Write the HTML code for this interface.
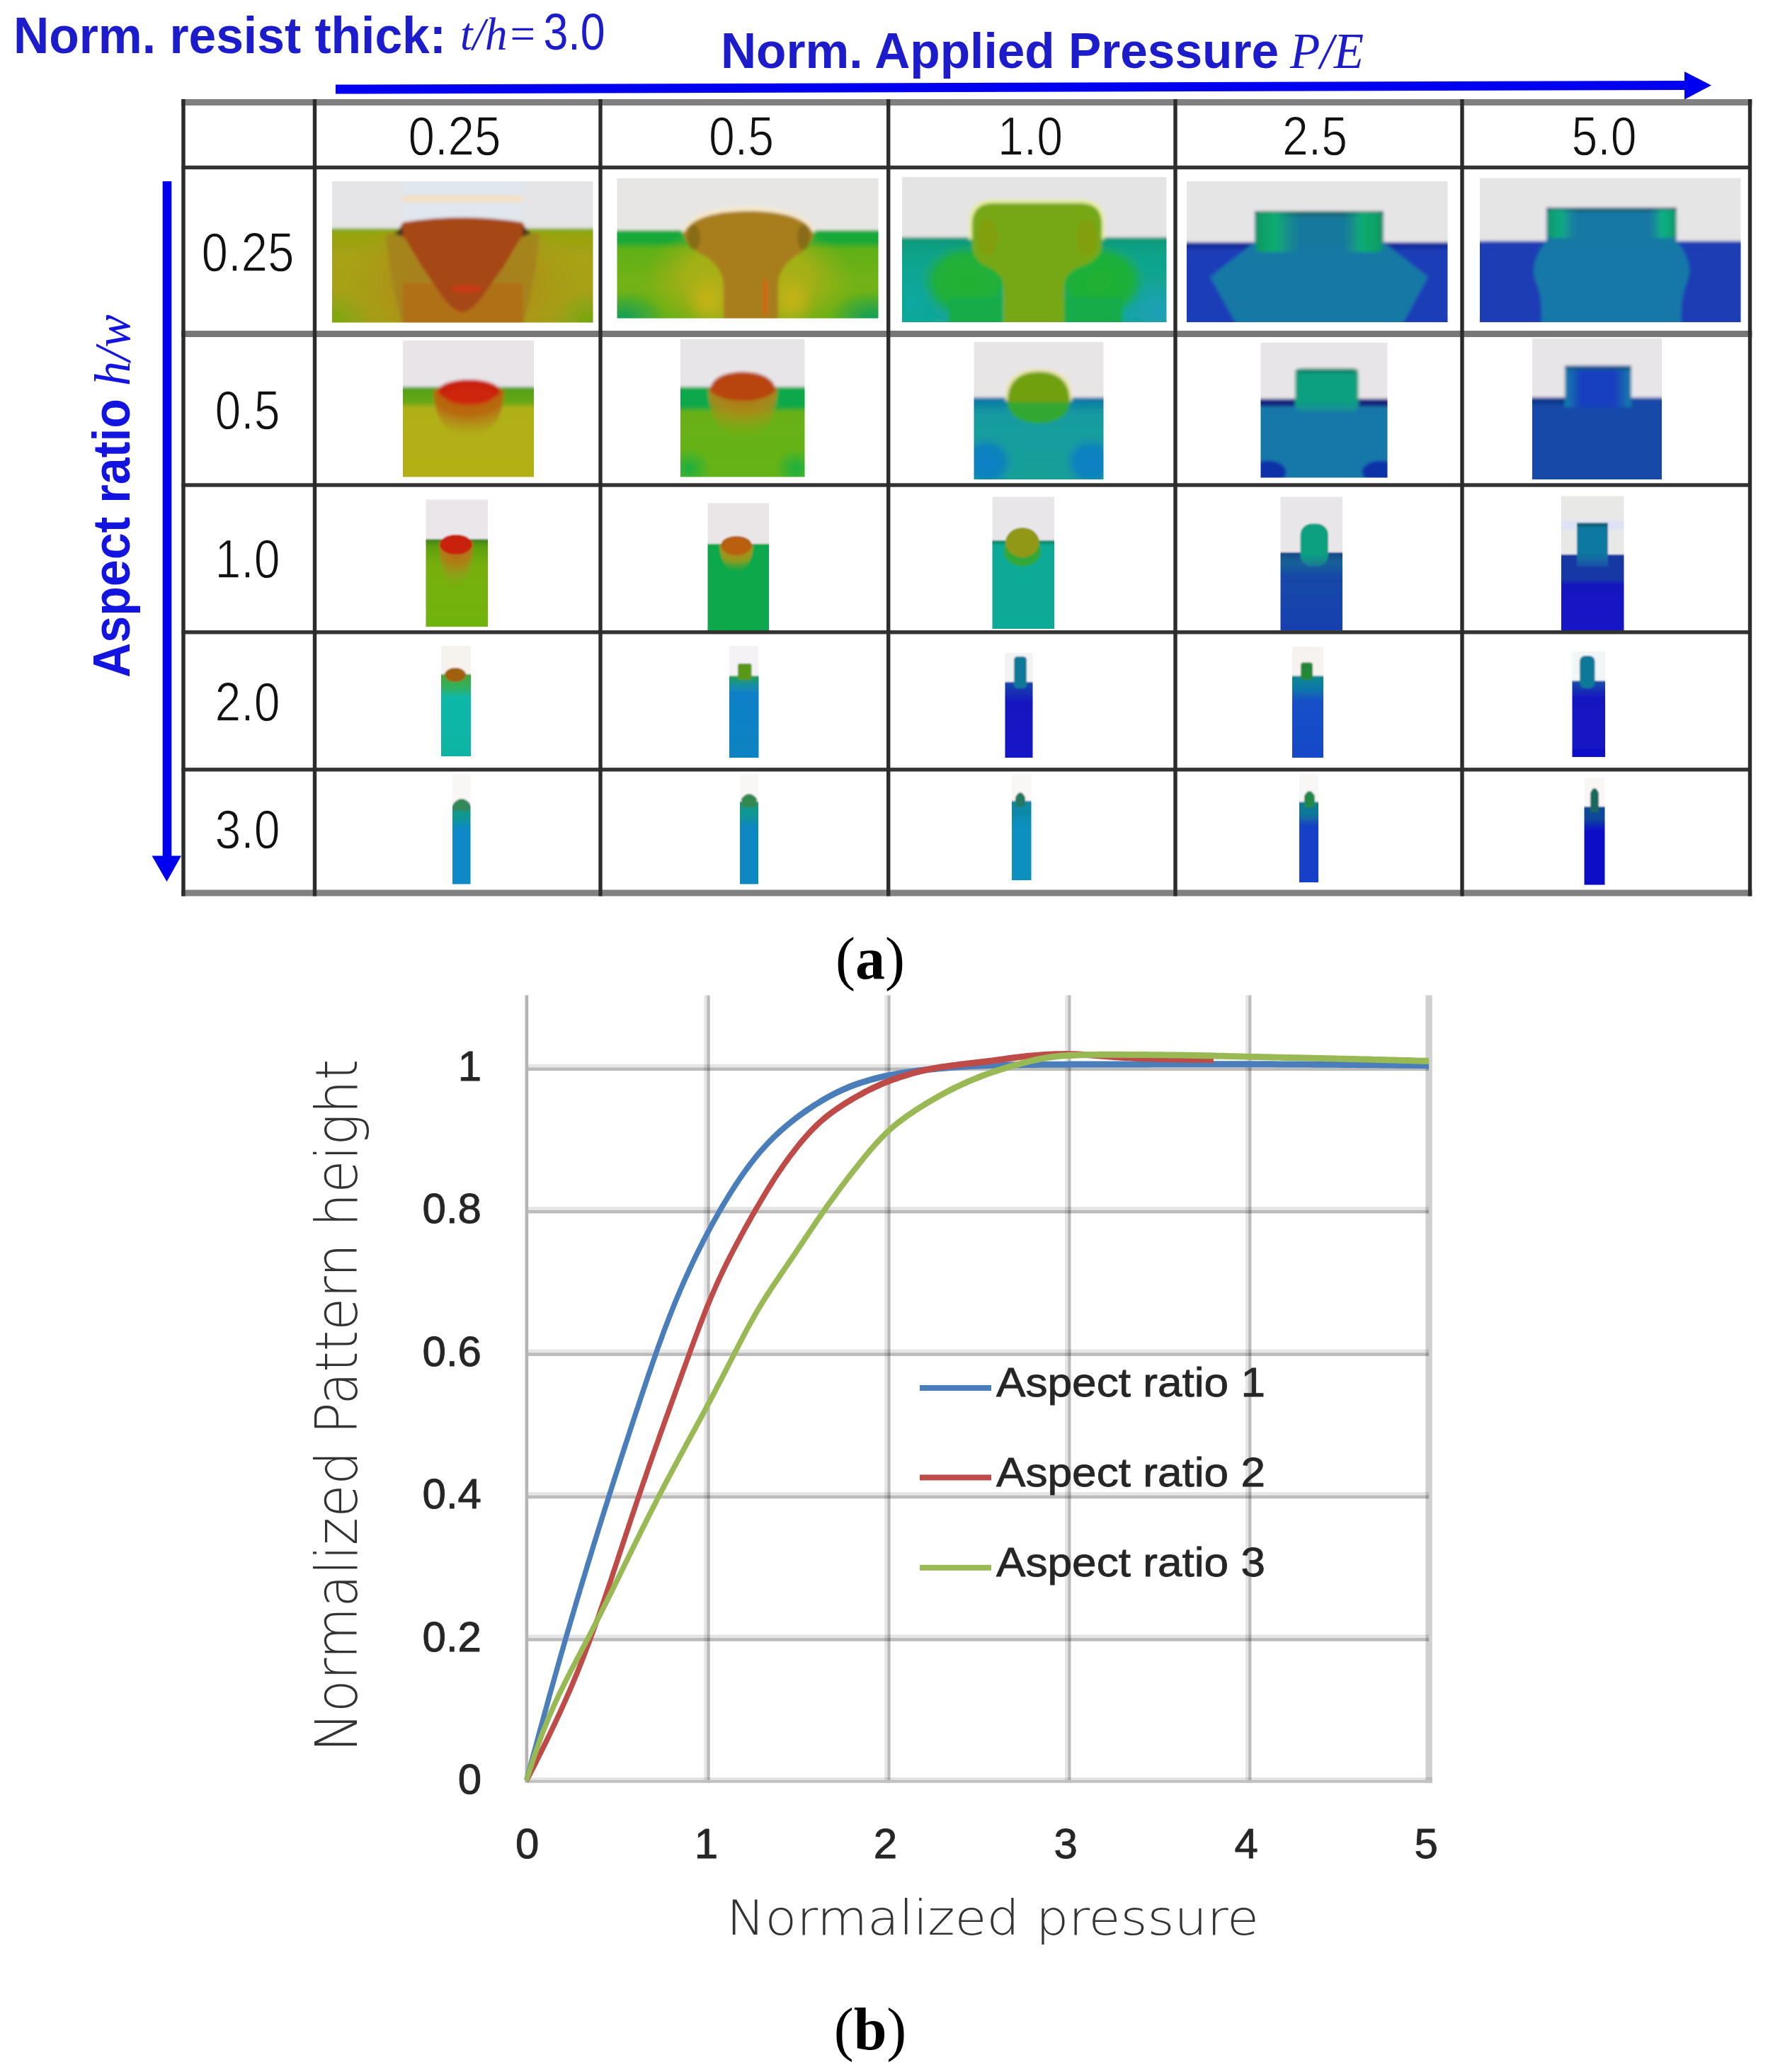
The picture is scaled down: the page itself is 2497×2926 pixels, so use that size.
<!DOCTYPE html>
<html lang="en"><head><meta charset="utf-8"><title>Figure</title>
<style>html,body{margin:0;padding:0;background:#fff}svg{display:block}</style></head>
<body><svg width="2497" height="2926" viewBox="0 0 2497 2926">
<rect width="2497" height="2926" fill="#fff"/>
<defs><filter id="b2" x="-10%" y="-10%" width="120%" height="120%"><feGaussianBlur stdDeviation="2"/></filter><filter id="b1" x="-10%" y="-10%" width="120%" height="120%"><feGaussianBlur stdDeviation="1.2"/></filter><filter id="b4" x="-20%" y="-20%" width="140%" height="140%"><feGaussianBlur stdDeviation="5"/></filter><linearGradient id="g1" x1="0" y1="0" x2="0" y2="1"><stop offset="0" stop-color="#7eac08"/><stop offset="0.07" stop-color="#98a40e"/><stop offset="0.3" stop-color="#a8a216"/><stop offset="1" stop-color="#a4a014"/></linearGradient><radialGradient id="r2" cx="0.5" cy="0.5" r="0.5"><stop offset="0" stop-color="#78a810" stop-opacity="1"/><stop offset="1" stop-color="#78a810" stop-opacity="0"/></radialGradient><radialGradient id="r3" cx="0.5" cy="0.5" r="0.5"><stop offset="0" stop-color="#70a810" stop-opacity="1"/><stop offset="1" stop-color="#70a810" stop-opacity="0"/></radialGradient><radialGradient id="r4" cx="0.5" cy="0.5" r="0.5"><stop offset="0" stop-color="#b48818" stop-opacity="0.9"/><stop offset="0.6" stop-color="#b08c18" stop-opacity="0.6"/><stop offset="1" stop-color="#a89818" stop-opacity="0"/></radialGradient><clipPath id="k5"><rect x="460.0" y="324.5" width="386.5" height="140.0"/></clipPath><clipPath id="c6"><rect x="469.0" y="256.0" width="368.5" height="199.5"/></clipPath><linearGradient id="g7" x1="0" y1="0" x2="0" y2="1"><stop offset="0" stop-color="#10a83c"/><stop offset="0.12" stop-color="#18a838"/><stop offset="0.2" stop-color="#60b018"/><stop offset="0.6" stop-color="#74b212"/><stop offset="1" stop-color="#64b018"/></linearGradient><radialGradient id="r8" cx="0.5" cy="0.5" r="0.5"><stop offset="0" stop-color="#10a058" stop-opacity="1"/><stop offset="1" stop-color="#10a058" stop-opacity="0"/></radialGradient><radialGradient id="r9" cx="0.5" cy="0.5" r="0.5"><stop offset="0" stop-color="#10a058" stop-opacity="1"/><stop offset="1" stop-color="#10a058" stop-opacity="0"/></radialGradient><radialGradient id="r10" cx="0.5" cy="0.5" r="0.5"><stop offset="0" stop-color="#b0b014" stop-opacity="1"/><stop offset="0.6" stop-color="#a8b014" stop-opacity="0.9"/><stop offset="1" stop-color="#98b014" stop-opacity="0"/></radialGradient><radialGradient id="r11" cx="0.5" cy="0.5" r="0.5"><stop offset="0" stop-color="#c8b418" stop-opacity="1"/><stop offset="1" stop-color="#c0b018" stop-opacity="0"/></radialGradient><radialGradient id="r12" cx="0.5" cy="0.5" r="0.5"><stop offset="0" stop-color="#c8b418" stop-opacity="1"/><stop offset="1" stop-color="#c0b018" stop-opacity="0"/></radialGradient><clipPath id="c13"><rect x="871.5" y="251.5" width="369.0" height="198.0"/></clipPath><linearGradient id="g14" x1="0" y1="0" x2="0" y2="1"><stop offset="0" stop-color="#0c9878"/><stop offset="0.2" stop-color="#10a48c"/><stop offset="1" stop-color="#12a898"/></linearGradient><radialGradient id="r15" cx="0.5" cy="0.5" r="0.5"><stop offset="0" stop-color="#20a0b8" stop-opacity="1"/><stop offset="1" stop-color="#20a0b8" stop-opacity="0"/></radialGradient><radialGradient id="r16" cx="0.5" cy="0.5" r="0.5"><stop offset="0" stop-color="#10a8a0" stop-opacity="1"/><stop offset="1" stop-color="#10a8a0" stop-opacity="0"/></radialGradient><radialGradient id="r17" cx="0.5" cy="0.5" r="0.5"><stop offset="0" stop-color="#24b030" stop-opacity="1"/><stop offset="0.7" stop-color="#20b038" stop-opacity="0.95"/><stop offset="1" stop-color="#18a860" stop-opacity="0"/></radialGradient><radialGradient id="r18" cx="0.5" cy="0.5" r="0.5"><stop offset="0" stop-color="#20b030" stop-opacity="1"/><stop offset="0.7" stop-color="#20b038" stop-opacity="0.95"/><stop offset="1" stop-color="#18a860" stop-opacity="0"/></radialGradient><clipPath id="c19"><rect x="1274.0" y="250.0" width="373.5" height="205.0"/></clipPath><linearGradient id="g20" x1="0" y1="0" x2="1" y2="0"><stop offset="0" stop-color="#0c9860" stop-opacity="1"/><stop offset="0.45" stop-color="#10b070" stop-opacity="0.95"/><stop offset="1" stop-color="#10a080" stop-opacity="0"/></linearGradient><linearGradient id="g21" x1="0" y1="0" x2="1" y2="0"><stop offset="0" stop-color="#10a080" stop-opacity="0"/><stop offset="0.5" stop-color="#10b070" stop-opacity="0.95"/><stop offset="1" stop-color="#0c9860" stop-opacity="1"/></linearGradient><clipPath id="c22"><rect x="1676.0" y="256.0" width="368.5" height="199.0"/></clipPath><linearGradient id="g23" x1="0" y1="0" x2="1" y2="0"><stop offset="0" stop-color="#0c9868" stop-opacity="1"/><stop offset="0.45" stop-color="#10b080" stop-opacity="0.9"/><stop offset="1" stop-color="#10a090" stop-opacity="0"/></linearGradient><linearGradient id="g24" x1="0" y1="0" x2="1" y2="0"><stop offset="0" stop-color="#10a090" stop-opacity="0"/><stop offset="0.5" stop-color="#10b880" stop-opacity="0.9"/><stop offset="1" stop-color="#0c9868" stop-opacity="1"/></linearGradient><clipPath id="c25"><rect x="2090.0" y="251.5" width="368.5" height="203.5"/></clipPath><linearGradient id="g26" x1="0" y1="0" x2="0" y2="1"><stop offset="0" stop-color="#50a018"/><stop offset="0.16" stop-color="#68a818"/><stop offset="0.22" stop-color="#b0b018"/><stop offset="1" stop-color="#b4b018"/></linearGradient><radialGradient id="r27" cx="0.5" cy="0.0" r="1.0"><stop offset="0" stop-color="#c05010" stop-opacity="1"/><stop offset="0.55" stop-color="#b86810" stop-opacity="0.95"/><stop offset="1" stop-color="#b08818" stop-opacity="0"/></radialGradient><clipPath id="c28"><rect x="569.0" y="481.0" width="185.0" height="192.5"/></clipPath><linearGradient id="g29" x1="0" y1="0" x2="0" y2="1"><stop offset="0" stop-color="#10a848"/><stop offset="0.2" stop-color="#10a848"/><stop offset="0.26" stop-color="#68b018"/><stop offset="1" stop-color="#64b418"/></linearGradient><radialGradient id="r30" cx="0.5" cy="0.5" r="0.5"><stop offset="0" stop-color="#18b040" stop-opacity="1"/><stop offset="1" stop-color="#18b040" stop-opacity="0"/></radialGradient><radialGradient id="r31" cx="0.5" cy="0.5" r="0.5"><stop offset="0" stop-color="#18b040" stop-opacity="1"/><stop offset="1" stop-color="#18b040" stop-opacity="0"/></radialGradient><radialGradient id="r32" cx="0.5" cy="0.0" r="1.0"><stop offset="0" stop-color="#c06810" stop-opacity="1"/><stop offset="0.5" stop-color="#b08818" stop-opacity="0.9"/><stop offset="1" stop-color="#90a818" stop-opacity="0"/></radialGradient><clipPath id="c33"><rect x="961.0" y="479.0" width="175.5" height="194.5"/></clipPath><linearGradient id="g34" x1="0" y1="0" x2="0" y2="1"><stop offset="0" stop-color="#0c6ca8"/><stop offset="0.07" stop-color="#1084a4"/><stop offset="0.2" stop-color="#149ca0"/><stop offset="1" stop-color="#14a098"/></linearGradient><radialGradient id="r35" cx="0.5" cy="0.5" r="0.5"><stop offset="0" stop-color="#1080c8" stop-opacity="1"/><stop offset="0.6" stop-color="#1080c0" stop-opacity="0.9"/><stop offset="1" stop-color="#1088b8" stop-opacity="0"/></radialGradient><radialGradient id="r36" cx="0.5" cy="0.5" r="0.5"><stop offset="0" stop-color="#1080c8" stop-opacity="1"/><stop offset="0.6" stop-color="#1080c0" stop-opacity="0.9"/><stop offset="1" stop-color="#1088b8" stop-opacity="0"/></radialGradient><clipPath id="c37"><rect x="1375.5" y="483.0" width="183.0" height="194.0"/></clipPath><linearGradient id="g38" x1="0" y1="0" x2="0" y2="1"><stop offset="0" stop-color="#10a080"/><stop offset="0.75" stop-color="#10a080"/><stop offset="1" stop-color="#1488a0"/></linearGradient><clipPath id="c39"><rect x="1780.5" y="484.0" width="179.0" height="190.5"/></clipPath><linearGradient id="g40" x1="0" y1="0" x2="1" y2="0"><stop offset="0" stop-color="#1080a8"/><stop offset="0.25" stop-color="#1840c0"/><stop offset="0.75" stop-color="#1840c0"/><stop offset="1" stop-color="#1080a8"/></linearGradient><clipPath id="c41"><rect x="2164.0" y="478.0" width="183.0" height="199.0"/></clipPath><linearGradient id="g42" x1="0" y1="0" x2="0" y2="1"><stop offset="0" stop-color="#388018"/><stop offset="0.08" stop-color="#60a010"/><stop offset="0.3" stop-color="#78b010"/><stop offset="1" stop-color="#70b410"/></linearGradient><radialGradient id="r43" cx="0.5" cy="0.0" r="1.0"><stop offset="0" stop-color="#c85010" stop-opacity="1"/><stop offset="0.5" stop-color="#b87818" stop-opacity="0.85"/><stop offset="1" stop-color="#98a018" stop-opacity="0"/></radialGradient><clipPath id="c44"><rect x="601.5" y="705.5" width="87.5" height="179.5"/></clipPath><radialGradient id="r45" cx="0.5" cy="0.0" r="1.0"><stop offset="0" stop-color="#c07810" stop-opacity="1"/><stop offset="0.6" stop-color="#a89818" stop-opacity="0.85"/><stop offset="1" stop-color="#50a830" stop-opacity="0"/></radialGradient><clipPath id="c46"><rect x="999.5" y="710.5" width="86.5" height="180.5"/></clipPath><clipPath id="c47"><rect x="1401.5" y="701.5" width="87.5" height="186.5"/></clipPath><linearGradient id="g48" x1="0" y1="0" x2="0" y2="1"><stop offset="0" stop-color="#184888"/><stop offset="0.12" stop-color="#186098"/><stop offset="0.3" stop-color="#1848a8"/><stop offset="1" stop-color="#1840b0"/></linearGradient><linearGradient id="g49" x1="0" y1="0" x2="0" y2="1"><stop offset="0" stop-color="#10a080"/><stop offset="0.7" stop-color="#10a080"/><stop offset="1" stop-color="#147898"/></linearGradient><clipPath id="c50"><rect x="1808.5" y="701.5" width="87.5" height="189.0"/></clipPath><linearGradient id="g51" x1="0" y1="0" x2="0" y2="1"><stop offset="0" stop-color="#1838a0"/><stop offset="0.3" stop-color="#1838a8"/><stop offset="0.36" stop-color="#1818c0"/><stop offset="1" stop-color="#1414c8"/></linearGradient><linearGradient id="g52" x1="0" y1="0" x2="0" y2="1"><stop offset="0" stop-color="#1078a0"/><stop offset="0.7" stop-color="#1078a0"/><stop offset="1" stop-color="#1850a8"/></linearGradient><clipPath id="c53"><rect x="2205.0" y="700.5" width="88.5" height="192.0"/></clipPath><linearGradient id="g54" x1="0" y1="0" x2="0" y2="1"><stop offset="0" stop-color="#40a838"/><stop offset="0.16" stop-color="#30b060"/><stop offset="0.26" stop-color="#10b8a8"/><stop offset="1" stop-color="#10b4a4"/></linearGradient><clipPath id="c55"><rect x="623.0" y="912.0" width="42.0" height="156.0"/></clipPath><linearGradient id="g56" x1="0" y1="0" x2="0" y2="1"><stop offset="0" stop-color="#20a050"/><stop offset="0.1" stop-color="#1890a0"/><stop offset="0.2" stop-color="#1080c8"/><stop offset="1" stop-color="#1084c0"/></linearGradient><clipPath id="c57"><rect x="1030.0" y="912.0" width="41.5" height="158.0"/></clipPath><linearGradient id="g58" x1="0" y1="0" x2="0" y2="1"><stop offset="0" stop-color="#1848a8"/><stop offset="0.25" stop-color="#1818c0"/><stop offset="1" stop-color="#1414c8"/></linearGradient><clipPath id="c59"><rect x="1419.5" y="922.0" width="39.0" height="148.0"/></clipPath><linearGradient id="g60" x1="0" y1="0" x2="0" y2="1"><stop offset="0" stop-color="#108890"/><stop offset="0.15" stop-color="#1078a8"/><stop offset="0.28" stop-color="#1850c8"/><stop offset="1" stop-color="#1848c8"/></linearGradient><clipPath id="c61"><rect x="1825.0" y="913.5" width="44.0" height="156.5"/></clipPath><linearGradient id="g62" x1="0" y1="0" x2="0" y2="1"><stop offset="0" stop-color="#1850a8"/><stop offset="0.2" stop-color="#1818c0"/><stop offset="1" stop-color="#1010c8"/></linearGradient><clipPath id="c63"><rect x="2220.5" y="920.0" width="46.5" height="149.0"/></clipPath><linearGradient id="g64" x1="0" y1="0" x2="0" y2="1"><stop offset="0" stop-color="#109890"/><stop offset="0.14" stop-color="#109890"/><stop offset="0.28" stop-color="#1088c8"/><stop offset="1" stop-color="#1088c8"/></linearGradient><clipPath id="c65"><rect x="639.0" y="1093.0" width="25.5" height="155.5"/></clipPath><linearGradient id="g66" x1="0" y1="0" x2="0" y2="1"><stop offset="0" stop-color="#109890"/><stop offset="0.14" stop-color="#109890"/><stop offset="0.28" stop-color="#1088c0"/><stop offset="1" stop-color="#1088c0"/></linearGradient><clipPath id="c67"><rect x="1045.0" y="1093.0" width="26.0" height="155.5"/></clipPath><linearGradient id="g68" x1="0" y1="0" x2="0" y2="1"><stop offset="0" stop-color="#1088a8"/><stop offset="0.14" stop-color="#1088a8"/><stop offset="0.28" stop-color="#1090c0"/><stop offset="1" stop-color="#1090c0"/></linearGradient><clipPath id="c69"><rect x="1429.0" y="1093.0" width="27.5" height="150.0"/></clipPath><linearGradient id="g70" x1="0" y1="0" x2="0" y2="1"><stop offset="0" stop-color="#107898"/><stop offset="0.14" stop-color="#107898"/><stop offset="0.28" stop-color="#1840c8"/><stop offset="1" stop-color="#1840c8"/></linearGradient><clipPath id="c71"><rect x="1835.0" y="1093.0" width="27.0" height="153.0"/></clipPath><linearGradient id="g72" x1="0" y1="0" x2="0" y2="1"><stop offset="0" stop-color="#104898"/><stop offset="0.14" stop-color="#104898"/><stop offset="0.28" stop-color="#1010c8"/><stop offset="1" stop-color="#1010c8"/></linearGradient><clipPath id="c73"><rect x="2237.5" y="1098.0" width="29.0" height="151.5"/></clipPath></defs><g clip-path="url(#c6)"><g filter="url(#b2)"><rect x="460.0" y="247.0" width="386.5" height="217.5" fill="#e5e4e6"/><rect x="569.0" y="247.0" width="169.0" height="63.0" fill="#e0e7ee"/><rect x="569.0" y="276.0" width="169.0" height="10.0" fill="#f4e0c4"/><rect x="460.0" y="322.5" width="386.5" height="142.0" fill="url(#g1)"/><ellipse cx="469.0" cy="455.5" rx="60.0" ry="45.0" fill="url(#r2)"/><ellipse cx="837.5" cy="455.5" rx="60.0" ry="45.0" fill="url(#r3)"/><g clip-path="url(#k5)"><ellipse cx="653.0" cy="400.0" rx="170.0" ry="120.0" fill="url(#r4)"/></g><path d="M545,330 L762,330 Q756,400 738,460 L569,460 Q551,400 545,330Z" fill="#a47c20" opacity="0.7"/><rect x="569.0" y="400.0" width="169.0" height="64.5" fill="#b07018" rx="0.8"/><path d="M569,314 Q653,300 738,314 L746,328 L734,338 L711,377 L683,416 Q668,438 653,441 Q638,438 623,416 L596,377 L573,338 L561,328 Z" fill="#a64616"/><ellipse cx="658.0" cy="408.0" rx="22.0" ry="6.0" fill="#d03818" opacity="0.8"/><path d="M556,330 l13,-10 v14 z" fill="#2a2a20" opacity="0.7"/><path d="M751,330 l-13,-10 v14 z" fill="#2a2a20" opacity="0.7"/></g></g><g clip-path="url(#c13)"><g filter="url(#b2)"><rect x="862.5" y="242.5" width="387.0" height="216.0" fill="#e7e6e4"/><rect x="862.5" y="325.0" width="387.0" height="133.5" fill="url(#g7)"/><ellipse cx="881.5" cy="449.5" rx="60.0" ry="40.0" fill="url(#r8)"/><ellipse cx="1230.5" cy="449.5" rx="60.0" ry="40.0" fill="url(#r9)"/><ellipse cx="1057.0" cy="395.0" rx="150.0" ry="85.0" fill="url(#r10)"/><ellipse cx="1000.0" cy="423.0" rx="32.0" ry="40.0" fill="url(#r11)"/><ellipse cx="1119.0" cy="423.0" rx="32.0" ry="40.0" fill="url(#r12)"/><path d="M962,328 Q975,292 1057,292 Q1140,292 1152,328 Z" fill="#f6e8c8"/><path d="M965,332 Q975,299 1057,298 Q1139,299 1149,332 Q1142,352 1120,364 Q1100,380 1099,400 L1099,460 L1022,460 L1022,400 Q1020,380 1000,364 Q973,352 965,332 Z" fill="#a87e1a"/><rect x="1078.0" y="395.0" width="6.0" height="50.0" fill="#d06818" rx="0.8"/><ellipse cx="980.0" cy="335.0" rx="9.0" ry="18.0" fill="#6a5a18" opacity="0.5"/><ellipse cx="1135.0" cy="335.0" rx="9.0" ry="18.0" fill="#6a5a18" opacity="0.5"/></g></g><g clip-path="url(#c19)"><g filter="url(#b2)"><rect x="1265.0" y="241.0" width="391.5" height="223.0" fill="#e5e4e5"/><rect x="1265.0" y="335.0" width="391.5" height="129.0" fill="url(#g14)"/><ellipse cx="1637.5" cy="440.0" rx="70.0" ry="50.0" fill="url(#r15)"/><ellipse cx="1284.0" cy="425.0" rx="50.0" ry="60.0" fill="url(#r16)"/><ellipse cx="1366.0" cy="397.0" rx="66.0" ry="54.0" fill="url(#r17)"/><ellipse cx="1553.0" cy="397.0" rx="66.0" ry="54.0" fill="url(#r18)"/><rect x="1340.0" y="420.0" width="76.0" height="44.0" fill="#18ac48" rx="0.7"/><rect x="1503.0" y="420.0" width="82.0" height="44.0" fill="#18ac48" rx="0.7"/><path d="M1368,338 L1368,315 Q1368,282 1402,282 L1527,282 Q1560,282 1560,315 L1560,338 Z" fill="#e4ec9c"/><path d="M1373,350 L1373,316 Q1373,287 1404,287 L1525,287 Q1556,287 1556,316 L1556,350 Q1552,368 1527,376 Q1503,386 1503,404 L1503,465 L1417,465 L1417,404 Q1417,386 1393,376 Q1376,368 1373,350 Z" fill="#76a812"/><ellipse cx="1395.0" cy="335.0" rx="14.0" ry="26.0" fill="#8a9a10" opacity="0.6"/><ellipse cx="1535.0" cy="335.0" rx="14.0" ry="26.0" fill="#8a9a10" opacity="0.6"/></g></g><g clip-path="url(#c22)"><g filter="url(#b2)"><rect x="1667.0" y="247.0" width="386.5" height="217.0" fill="#e6e5e6"/><rect x="1667.0" y="342.0" width="386.5" height="122.0" fill="#1a3cb8"/><rect x="1667.0" y="342.0" width="386.5" height="10.0" fill="#182c98" opacity="0.8"/><path d="M1772,342 L1954,342 L2017,391 L1977,465 L1750,465 L1709,391 Z" fill="#1878a4"/><rect x="1772.0" y="298.0" width="182.0" height="52.0" fill="#18789c"/><rect x="1772.0" y="298.0" width="182.0" height="8.0" fill="#106868" opacity="0.7"/><rect x="1774.0" y="300.0" width="62.0" height="56.0" fill="url(#g20)" rx="6"/><rect x="1896.0" y="300.0" width="56.0" height="56.0" fill="url(#g21)" rx="6"/></g></g><g clip-path="url(#c25)"><g filter="url(#b2)"><rect x="2081.0" y="242.5" width="386.5" height="221.5" fill="#e6e5e5"/><rect x="2081.0" y="340.5" width="386.5" height="123.5" fill="#1a3cb4"/><path d="M2184,340 L2368,340 Q2392,370 2384,395 Q2372,420 2375,465 L2176,465 Q2180,420 2168,395 Q2160,370 2184,340 Z" fill="#1878a8"/><rect x="2184.0" y="293.0" width="184.0" height="57.0" fill="#1878a4"/><rect x="2184.0" y="293.0" width="184.0" height="7.0" fill="#106070" opacity="0.7"/><rect x="2186.0" y="296.0" width="42.0" height="40.0" fill="url(#g23)" rx="6"/><rect x="2328.0" y="296.0" width="39.0" height="40.0" fill="url(#g24)" rx="6"/></g></g><g clip-path="url(#c28)"><g filter="url(#b2)"><rect x="560.0" y="472.0" width="203.0" height="210.5" fill="#e8e4e8"/><rect x="560.0" y="546.5" width="203.0" height="136.0" fill="url(#g26)"/><path d="M612,550 Q614,614 662,616 Q710,614 712,550 Z" fill="url(#r27)"/><ellipse cx="662.5" cy="552.0" rx="44.0" ry="16.0" fill="#c82010"/><ellipse cx="662.5" cy="560.0" rx="34.0" ry="12.0" fill="#d02810" opacity="0.8"/></g></g><g clip-path="url(#c33)"><g filter="url(#b2)"><rect x="952.0" y="470.0" width="193.5" height="212.5" fill="#e8e5e8"/><rect x="952.0" y="546.5" width="193.5" height="136.0" fill="url(#g29)"/><ellipse cx="973.0" cy="661.5" rx="30.0" ry="28.0" fill="url(#r30)"/><ellipse cx="1124.5" cy="661.5" rx="30.0" ry="28.0" fill="url(#r31)"/><path d="M1000,548 Q1002,616 1049,618 Q1096,616 1098,548 Z" fill="url(#r32)"/><path d="M1002,552 Q1006,526 1049,525 Q1092,526 1096,552 Q1080,566 1049,566 Q1018,566 1002,552Z" fill="#b84410"/></g></g><g clip-path="url(#c37)"><g filter="url(#b2)"><rect x="1366.5" y="474.0" width="201.0" height="212.0" fill="#e8e5e6"/><rect x="1366.5" y="561.5" width="201.0" height="124.5" fill="url(#g34)"/><ellipse cx="1393.5" cy="652.0" rx="38.0" ry="36.0" fill="url(#r35)"/><ellipse cx="1540.5" cy="652.0" rx="38.0" ry="36.0" fill="url(#r36)"/><path d="M1422,562 L1512,562 Q1512,596 1467,598 Q1422,596 1422,562 Z" fill="#30a830"/><path d="M1420,566 Q1418,522 1467,521 Q1516,522 1514,566 Z" fill="#e8e4a0"/><path d="M1423,568 Q1423,526 1467,525 Q1511,526 1511,568 Z" fill="#70a010"/></g></g><g clip-path="url(#c39)"><g filter="url(#b2)"><rect x="1771.5" y="475.0" width="197.0" height="208.5" fill="#e8e5e8"/><rect x="1771.5" y="563.0" width="197.0" height="120.5" fill="#1878a8"/><rect x="1771.5" y="563.0" width="57.5" height="11.0" fill="#182880"/><rect x="1919.0" y="563.0" width="49.5" height="11.0" fill="#182880"/><ellipse cx="1790.5" cy="666.5" rx="26.0" ry="16.0" fill="#1030a8"/><ellipse cx="1949.5" cy="666.5" rx="26.0" ry="16.0" fill="#1030a8"/><rect x="1829.0" y="520.5" width="89.5" height="61.5" fill="url(#g38)" rx="9"/><rect x="1829.0" y="520.5" width="89.5" height="7.5" fill="#0c7860" rx="5" opacity="0.6"/></g></g><g clip-path="url(#c41)"><g filter="url(#b2)"><rect x="2155.0" y="469.0" width="201.0" height="217.0" fill="#e7e5e8"/><rect x="2155.0" y="561.5" width="201.0" height="124.5" fill="#1848a8"/><rect x="2155.0" y="561.5" width="55.0" height="10.0" fill="#103888" opacity="0.8"/><rect x="2210.0" y="516.5" width="94.0" height="58.5" fill="url(#g40)"/><rect x="2210.0" y="516.5" width="94.0" height="6.5" fill="#105878" opacity="0.7"/></g></g><g clip-path="url(#c44)"><g filter="url(#b1)"><rect x="592.5" y="696.5" width="105.5" height="197.5" fill="#ebe6ea"/><rect x="592.5" y="761.5" width="105.5" height="132.5" fill="url(#g42)"/><path d="M620,765 Q622,826 644,828 Q666,826 668,765 Z" fill="url(#r43)"/><ellipse cx="644.0" cy="769.0" rx="23.0" ry="14.0" fill="#c82010"/></g></g><g clip-path="url(#c46)"><g filter="url(#b1)"><rect x="990.5" y="701.5" width="104.5" height="198.5" fill="#eae6e8"/><rect x="990.5" y="768.0" width="104.5" height="132.0" fill="#10a848"/><path d="M1016,770 Q1018,806 1040,808 Q1062,806 1064,770 Z" fill="url(#r45)"/><path d="M1018,772 Q1018,758 1040,757 Q1062,758 1062,772 Q1056,784 1040,784 Q1024,784 1018,772Z" fill="#b86010"/></g></g><g clip-path="url(#c47)"><g filter="url(#b1)"><rect x="1392.5" y="692.5" width="105.5" height="204.5" fill="#e9e6e9"/><rect x="1392.5" y="763.0" width="105.5" height="134.0" fill="#10aa98"/><rect x="1392.5" y="763.0" width="105.5" height="6.0" fill="#0c8868" opacity="0.7"/><ellipse cx="1444.0" cy="778.0" rx="26.0" ry="22.0" fill="#30a838"/><ellipse cx="1444.0" cy="766.0" rx="24.0" ry="21.0" fill="#909818"/></g></g><g clip-path="url(#c50)"><g filter="url(#b1)"><rect x="1799.5" y="692.5" width="105.5" height="207.0" fill="#e8e6e8"/><rect x="1799.5" y="780.0" width="105.5" height="119.5" fill="url(#g48)"/><rect x="1836.5" y="739.5" width="39.5" height="60.5" fill="url(#g49)" rx="16"/></g></g><g clip-path="url(#c53)"><g filter="url(#b1)"><rect x="2196.0" y="691.5" width="106.5" height="210.0" fill="#e8e8e6"/><rect x="2196.0" y="735.0" width="106.5" height="13.0" fill="#dfe2f4"/><rect x="2196.0" y="783.0" width="106.5" height="118.5" fill="url(#g51)"/><rect x="2227.0" y="738.5" width="44.0" height="61.5" fill="url(#g52)"/><rect x="2227.0" y="738.5" width="44.0" height="5.5" fill="#0c5868" opacity="0.7"/></g></g><g clip-path="url(#c55)"><g filter="url(#b1)"><rect x="614.0" y="903.0" width="60.0" height="174.0" fill="#f6f2ee"/><rect x="614.0" y="952.0" width="60.0" height="125.0" fill="url(#g54)"/><ellipse cx="643.0" cy="953.0" rx="15.0" ry="10.0" fill="#a06010"/></g></g><g clip-path="url(#c57)"><g filter="url(#b1)"><rect x="1021.0" y="903.0" width="59.5" height="176.0" fill="#f4f2f4"/><rect x="1021.0" y="954.5" width="59.5" height="124.5" fill="url(#g56)"/><rect x="1042.0" y="937.0" width="19.5" height="23.0" fill="#589818" rx="3"/></g></g><g clip-path="url(#c59)"><g filter="url(#b1)"><rect x="1410.5" y="913.0" width="57.0" height="166.0" fill="#f2f4f4"/><rect x="1410.5" y="963.0" width="57.0" height="116.0" fill="url(#g58)"/><rect x="1432.0" y="927.0" width="18.0" height="45.0" fill="#107898" rx="5"/></g></g><g clip-path="url(#c61)"><g filter="url(#b1)"><rect x="1816.0" y="904.5" width="62.0" height="174.5" fill="#f5f2f0"/><rect x="1816.0" y="954.5" width="62.0" height="124.5" fill="url(#g60)"/><rect x="1837.0" y="935.5" width="17.0" height="24.5" fill="#208838" rx="4"/></g></g><g clip-path="url(#c63)"><g filter="url(#b1)"><rect x="2211.5" y="911.0" width="64.5" height="167.0" fill="#f2f6f6"/><rect x="2211.5" y="961.5" width="64.5" height="116.5" fill="url(#g62)"/><rect x="2231.0" y="926.0" width="21.5" height="46.0" fill="#107898" rx="8"/></g></g><g clip-path="url(#c65)"><g filter="url(#b1)"><rect x="630.0" y="1093.0" width="43.5" height="164.5" fill="#f9f6f6"/><rect x="630.0" y="1137.0" width="43.5" height="120.5" fill="url(#g64)"/><path d="M640,1145 L640,1135 Q652.0,1121 664,1135 L664,1145 Z" fill="#308858"/></g></g><g clip-path="url(#c67)"><g filter="url(#b1)"><rect x="1036.0" y="1093.0" width="44.0" height="164.5" fill="#f9f6f6"/><rect x="1036.0" y="1132.0" width="44.0" height="125.5" fill="url(#g66)"/><path d="M1047,1140 L1047,1128 Q1058.0,1114 1069,1128 L1069,1140 Z" fill="#308850"/></g></g><g clip-path="url(#c69)"><g filter="url(#b1)"><rect x="1420.0" y="1093.0" width="45.5" height="159.0" fill="#f9f6f6"/><rect x="1420.0" y="1131.0" width="45.5" height="121.0" fill="url(#g68)"/><path d="M1434,1139 L1434,1126 Q1441.0,1112 1448,1126 L1448,1139 Z" fill="#207860"/></g></g><g clip-path="url(#c71)"><g filter="url(#b1)"><rect x="1826.0" y="1093.0" width="45.0" height="162.0" fill="#f9f6f6"/><rect x="1826.0" y="1132.5" width="45.0" height="122.5" fill="url(#g70)"/><path d="M1842,1140.5 L1842,1124 Q1849.5,1110 1857,1124 L1857,1140.5 Z" fill="#208848"/></g></g><g clip-path="url(#c73)"><g filter="url(#b1)"><rect x="2228.5" y="1098.0" width="47.0" height="160.5" fill="#f9f6f6"/><rect x="2228.5" y="1139.0" width="47.0" height="119.5" fill="url(#g72)"/><path d="M2246,1147 L2246,1120 Q2252.0,1106 2258,1120 L2258,1147 Z" fill="#186860"/></g></g>
<g><rect x="256" y="140.0" width="2218.5" height="9" fill="#808080"/><rect x="256" y="1256.5" width="2218.5" height="9" fill="#808080"/><rect x="256" y="467.0" width="2218.5" height="9" fill="#777"/><rect x="256.5" y="233.8" width="2217.5" height="5.4" fill="#333"/><rect x="256.5" y="682.3" width="2217.5" height="5.4" fill="#333"/><rect x="256.5" y="890.0999999999999" width="2217.5" height="5.4" fill="#333"/><rect x="256.5" y="1084.1" width="2217.5" height="5.4" fill="#333"/><rect x="256.3" y="140.0" width="5.4" height="1125.5" fill="#2c2c2c"/><rect x="441.8" y="140.0" width="5.4" height="1125.5" fill="#2c2c2c"/><rect x="845.3" y="140.0" width="5.4" height="1125.5" fill="#2c2c2c"/><rect x="1252.0" y="140.0" width="5.4" height="1125.5" fill="#2c2c2c"/><rect x="1657.3" y="140.0" width="5.4" height="1125.5" fill="#2c2c2c"/><rect x="2062.3" y="140.0" width="5.4" height="1125.5" fill="#2c2c2c"/><rect x="2468.8" y="140.0" width="5.4" height="1125.5" fill="#2c2c2c"/></g>
<polygon points="474,119.5 2381,114 2381,127 474,132.5" fill="#0000f0"/>
<polygon points="2379,101 2417,120.5 2379,140.5" fill="#0000f0"/>
<rect x="229.7" y="256" width="12.6" height="960" fill="#0000f0"/>
<polygon points="214.5,1208.5 256,1208.5 235.6,1245" fill="#0000f0"/>
<text transform="translate(642,219) scale(0.875,1)" font-family="'Liberation Sans', sans-serif" font-size="77" font-weight="normal" text-anchor="middle" fill="#111" stroke="#fff" stroke-width="1.3" >0.25</text>
<text transform="translate(1047,219) scale(0.86,1)" font-family="'Liberation Sans', sans-serif" font-size="77" font-weight="normal" text-anchor="middle" fill="#111" stroke="#fff" stroke-width="1.3" >0.5</text>
<text transform="translate(1455,219) scale(0.86,1)" font-family="'Liberation Sans', sans-serif" font-size="77" font-weight="normal" text-anchor="middle" fill="#111" stroke="#fff" stroke-width="1.3" >1.0</text>
<text transform="translate(1857,219) scale(0.86,1)" font-family="'Liberation Sans', sans-serif" font-size="77" font-weight="normal" text-anchor="middle" fill="#111" stroke="#fff" stroke-width="1.3" >2.5</text>
<text transform="translate(2265.5,219) scale(0.86,1)" font-family="'Liberation Sans', sans-serif" font-size="77" font-weight="normal" text-anchor="middle" fill="#111" stroke="#fff" stroke-width="1.3" >5.0</text>
<text transform="translate(350,383) scale(0.875,1)" font-family="'Liberation Sans', sans-serif" font-size="77" font-weight="normal" text-anchor="middle" fill="#111" stroke="#fff" stroke-width="1.3" >0.25</text>
<text transform="translate(349.5,605.5) scale(0.86,1)" font-family="'Liberation Sans', sans-serif" font-size="77" font-weight="normal" text-anchor="middle" fill="#111" stroke="#fff" stroke-width="1.3" >0.5</text>
<text transform="translate(349.5,816) scale(0.86,1)" font-family="'Liberation Sans', sans-serif" font-size="77" font-weight="normal" text-anchor="middle" fill="#111" stroke="#fff" stroke-width="1.3" >1.0</text>
<text transform="translate(349.5,1017.5) scale(0.86,1)" font-family="'Liberation Sans', sans-serif" font-size="77" font-weight="normal" text-anchor="middle" fill="#111" stroke="#fff" stroke-width="1.3" >2.0</text>
<text transform="translate(349.5,1198) scale(0.86,1)" font-family="'Liberation Sans', sans-serif" font-size="77" font-weight="normal" text-anchor="middle" fill="#111" stroke="#fff" stroke-width="1.3" >3.0</text>
<text x="19" y="74.5" font-family="'Liberation Sans', sans-serif" font-size="72" font-weight="bold" fill="#1c1ccc" textLength="611" lengthAdjust="spacingAndGlyphs">Norm. resist thick:</text>
<text x="650" y="70" font-family="'Liberation Serif', serif" font-size="66" font-style="italic" fill="#1c1ccc" textLength="109" lengthAdjust="spacingAndGlyphs">t/h=</text>
<text transform="translate(767.5,70) scale(0.87,1)" font-family="'Liberation Sans', sans-serif" font-size="72" fill="#1c1ccc">3.0</text>
<text x="1018" y="95.5" font-family="'Liberation Sans', sans-serif" font-size="70" font-weight="bold" fill="#1c1ccc" textLength="788" lengthAdjust="spacingAndGlyphs">Norm. Applied Pressure</text>
<text x="1822" y="96" font-family="'Liberation Serif', serif" font-size="72" font-style="italic" fill="#1c1ccc" textLength="104" lengthAdjust="spacingAndGlyphs">P/E</text>
<text transform="translate(182.7,957) rotate(-90)" font-family="'Liberation Sans', sans-serif" font-size="74" font-weight="bold" fill="#1414e0" textLength="394" lengthAdjust="spacingAndGlyphs">Aspect ratio</text>
<text transform="translate(182.7,545) rotate(-90)" font-family="'Liberation Serif', serif" font-size="72" font-style="italic" fill="#1414e0" textLength="101" lengthAdjust="spacingAndGlyphs">h/w</text>
<text x="1229" y="1381.5" font-family="'Liberation Serif', serif" font-size="84" fill="#000" text-anchor="middle">(<tspan font-weight="bold">a</tspan>)</text>
<text x="1229" y="2894" font-family="'Liberation Serif', serif" font-size="84" fill="#000" text-anchor="middle">(<tspan font-weight="bold">b</tspan>)</text>
<g><rect x="994.3" y="1405.5" width="4.2" height="1112.0" fill="#000" fill-opacity="0.10"/><rect x="998.5" y="1405.5" width="4.2" height="1112.0" fill="#000" fill-opacity="0.265"/><rect x="1249.2" y="1405.5" width="4.2" height="1112.0" fill="#000" fill-opacity="0.10"/><rect x="1253.4" y="1405.5" width="4.2" height="1112.0" fill="#000" fill-opacity="0.265"/><rect x="1504.1" y="1405.5" width="4.2" height="1112.0" fill="#000" fill-opacity="0.10"/><rect x="1508.3" y="1405.5" width="4.2" height="1112.0" fill="#000" fill-opacity="0.265"/><rect x="1759.0" y="1405.5" width="4.2" height="1112.0" fill="#000" fill-opacity="0.10"/><rect x="1763.2" y="1405.5" width="4.2" height="1112.0" fill="#000" fill-opacity="0.265"/><rect x="2013.4" y="1405.5" width="9.4" height="1112.0" fill="#d0d0d0"/><rect x="743.6" y="2308.4" width="1274.5" height="4.7" fill="#000" fill-opacity="0.10"/><rect x="743.6" y="2313.1" width="1274.5" height="4.6" fill="#000" fill-opacity="0.265"/><rect x="743.6" y="2107.0" width="1274.5" height="4.7" fill="#000" fill-opacity="0.10"/><rect x="743.6" y="2111.7" width="1274.5" height="4.6" fill="#000" fill-opacity="0.265"/><rect x="743.6" y="1905.6" width="1274.5" height="4.7" fill="#000" fill-opacity="0.10"/><rect x="743.6" y="1910.3" width="1274.5" height="4.6" fill="#000" fill-opacity="0.265"/><rect x="743.6" y="1704.2" width="1274.5" height="4.7" fill="#000" fill-opacity="0.10"/><rect x="743.6" y="1708.9" width="1274.5" height="4.6" fill="#000" fill-opacity="0.265"/><rect x="743.6" y="1502.8" width="1274.5" height="4.7" fill="#000" fill-opacity="0.10"/><rect x="743.6" y="1507.5" width="1274.5" height="4.6" fill="#000" fill-opacity="0.265"/><rect x="743.6" y="2510" width="1279.2" height="3.5" fill="#000" fill-opacity="0.10"/><rect x="743.6" y="2513.5" width="1279.2" height="4.2" fill="#c0c0c0"/><rect x="741.5" y="1405.5" width="4.7" height="1112.0" fill="#b4b4b4"/></g>
<path transform="scale(1,1.25)" d="M743.6,2011.60 L745.7,2005.22 L747.9,1998.84 L750.0,1992.48 L752.1,1986.14 L754.2,1979.80 L756.4,1973.49 L758.5,1967.18 L760.6,1960.90 L762.7,1954.63 L764.9,1948.38 L767.0,1942.16 L769.1,1935.95 L771.3,1929.76 L773.4,1923.59 L775.5,1917.45 L777.6,1911.32 L779.8,1905.22 L781.9,1899.14 L784.0,1893.09 L786.2,1887.05 L788.3,1881.04 L790.4,1875.06 L792.5,1869.09 L794.7,1863.15 L796.8,1857.23 L798.9,1851.34 L801.0,1845.47 L803.2,1839.62 L805.3,1833.79 L807.4,1827.98 L809.6,1822.20 L811.7,1816.44 L813.8,1810.70 L815.9,1804.98 L818.1,1799.28 L820.2,1793.60 L822.3,1787.94 L824.5,1782.30 L826.6,1776.67 L828.7,1771.07 L830.8,1765.48 L833.0,1759.91 L835.1,1754.35 L837.2,1748.81 L839.3,1743.29 L841.5,1737.78 L843.6,1732.29 L845.7,1726.81 L847.9,1721.35 L850.0,1715.90 L852.1,1710.46 L854.2,1705.04 L856.4,1699.64 L858.5,1694.24 L860.6,1688.86 L862.8,1683.50 L864.9,1678.15 L867.0,1672.81 L869.1,1667.49 L871.3,1662.17 L873.4,1656.87 L875.5,1651.59 L877.6,1646.31 L879.8,1641.05 L881.9,1635.79 L884.0,1630.55 L886.2,1625.31 L888.3,1620.09 L890.4,1614.88 L892.5,1609.67 L894.7,1604.48 L896.8,1599.29 L898.9,1594.12 L901.1,1588.96 L903.2,1583.81 L905.3,1578.67 L907.4,1573.55 L909.6,1568.45 L911.7,1563.37 L913.8,1558.32 L915.9,1553.28 L918.1,1548.28 L920.2,1543.31 L922.3,1538.37 L924.5,1533.47 L926.6,1528.61 L928.7,1523.80 L930.8,1519.03 L933.0,1514.30 L935.1,1509.63 L937.2,1505.01 L939.3,1500.44 L941.5,1495.93 L943.6,1491.47 L945.7,1487.07 L947.9,1482.73 L950.0,1478.44 L952.1,1474.21 L954.2,1470.03 L956.4,1465.91 L958.5,1461.85 L960.6,1457.84 L962.8,1453.88 L964.9,1449.97 L967.0,1446.11 L969.1,1442.30 L971.3,1438.54 L973.4,1434.82 L975.5,1431.15 L977.6,1427.52 L979.8,1423.94 L981.9,1420.40 L984.0,1416.89 L986.2,1413.43 L988.3,1410.00 L990.4,1406.61 L992.5,1403.26 L994.7,1399.94 L996.8,1396.66 L998.9,1393.42 L1001.1,1390.21 L1003.2,1387.03 L1005.3,1383.89 L1007.4,1380.78 L1011.7,1374.66 L1015.9,1368.67 L1020.2,1362.82 L1024.5,1357.10 L1028.7,1351.51 L1033.0,1346.06 L1037.2,1340.75 L1041.5,1335.58 L1045.7,1330.54 L1050.0,1325.65 L1054.2,1320.91 L1058.5,1316.31 L1062.8,1311.87 L1067.0,1307.58 L1071.3,1303.44 L1075.5,1299.46 L1079.8,1295.64 L1084.0,1291.96 L1088.3,1288.43 L1092.5,1285.03 L1096.8,1281.76 L1101.1,1278.60 L1105.3,1275.56 L1109.6,1272.62 L1113.8,1269.78 L1118.1,1267.02 L1122.3,1264.35 L1126.6,1261.76 L1130.8,1259.25 L1135.1,1256.80 L1139.4,1254.43 L1143.6,1252.12 L1147.9,1249.88 L1152.1,1247.70 L1156.4,1245.58 L1160.6,1243.52 L1164.9,1241.52 L1169.1,1239.59 L1173.4,1237.73 L1177.7,1235.93 L1181.9,1234.22 L1186.2,1232.58 L1190.4,1231.01 L1194.7,1229.53 L1198.9,1228.11 L1205.3,1226.13 L1211.7,1224.30 L1218.1,1222.60 L1224.5,1221.02 L1230.8,1219.56 L1237.2,1218.21 L1243.6,1216.96 L1250.0,1215.82 L1256.4,1214.75 L1262.8,1213.77 L1269.1,1212.87 L1275.5,1212.02 L1281.9,1211.23 L1288.3,1210.50 L1294.7,1209.82 L1301.1,1209.19 L1307.4,1208.61 L1313.8,1208.06 L1320.2,1207.55 L1326.6,1207.08 L1333.0,1206.63 L1339.4,1206.20 L1345.7,1205.80 L1352.1,1205.43 L1358.5,1205.07 L1364.9,1204.75 L1371.3,1204.45 L1377.7,1204.19 L1384.0,1203.96 L1390.4,1203.76 L1396.8,1203.59 L1403.2,1203.45 L1409.6,1203.33 L1416.0,1203.23 L1422.3,1203.14 L1428.7,1203.05 L1435.1,1202.98 L1441.5,1202.91 L1447.9,1202.85 L1454.3,1202.79 L1460.6,1202.74 L1467.0,1202.69 L1473.4,1202.65 L1479.8,1202.61 L1486.2,1202.58 L1492.6,1202.55 L1498.9,1202.52 L1505.3,1202.50 L1511.7,1202.48 L1518.1,1202.47 L1524.5,1202.45 L1530.9,1202.44 L1537.2,1202.42 L1543.6,1202.41 L1550.0,1202.40 L1556.4,1202.39 L1562.8,1202.38 L1569.2,1202.37 L1575.5,1202.36 L1581.9,1202.35 L1588.3,1202.34 L1594.7,1202.33 L1601.1,1202.32 L1607.5,1202.31 L1613.8,1202.30 L1620.2,1202.30 L1626.6,1202.29 L1633.0,1202.28 L1639.4,1202.27 L1645.8,1202.27 L1652.1,1202.26 L1658.5,1202.26 L1664.9,1202.25 L1671.3,1202.25 L1677.7,1202.24 L1684.0,1202.24 L1690.4,1202.24 L1696.8,1202.23 L1703.2,1202.23 L1709.6,1202.23 L1716.0,1202.23 L1722.3,1202.23 L1728.7,1202.23 L1735.1,1202.23 L1741.5,1202.23 L1747.9,1202.23 L1754.3,1202.23 L1760.6,1202.23 L1767.0,1202.24 L1773.4,1202.24 L1779.8,1202.25 L1786.2,1202.26 L1792.6,1202.27 L1798.9,1202.28 L1805.3,1202.30 L1811.7,1202.32 L1818.1,1202.34 L1824.5,1202.36 L1830.9,1202.38 L1837.2,1202.41 L1843.6,1202.44 L1850.0,1202.47 L1856.4,1202.50 L1862.8,1202.53 L1869.2,1202.57 L1875.5,1202.61 L1881.9,1202.64 L1888.3,1202.68 L1894.7,1202.73 L1901.1,1202.77 L1907.5,1202.81 L1913.8,1202.86 L1920.2,1202.91 L1926.6,1202.95 L1933.0,1203.00 L1939.4,1203.05 L1945.8,1203.10 L1952.1,1203.16 L1958.5,1203.21 L1964.9,1203.26 L1971.3,1203.32 L1977.7,1203.38 L1984.1,1203.43 L1990.4,1203.49 L1996.8,1203.55 L2003.2,1203.61 L2009.6,1203.67 L2016.0,1203.72 L2018.1,1203.74" fill="none" stroke="#4a7ebb" stroke-width="7.2" stroke-linejoin="round"/>
<path transform="scale(1,1.25)" d="M743.6,2011.60 L746.8,2006.56 L750.1,2001.50 L753.3,1996.41 L756.6,1991.29 L759.8,1986.14 L763.0,1980.95 L766.3,1975.72 L769.5,1970.46 L772.8,1965.15 L776.0,1959.80 L779.2,1954.40 L782.5,1948.94 L785.7,1943.42 L789.0,1937.84 L792.2,1932.20 L795.4,1926.47 L798.7,1920.67 L801.9,1914.77 L805.2,1908.79 L808.4,1902.71 L811.6,1896.52 L814.9,1890.23 L818.1,1883.83 L821.4,1877.31 L824.6,1870.69 L827.8,1863.95 L831.1,1857.10 L834.3,1850.14 L835.9,1846.61 L837.6,1843.06 L839.2,1839.49 L840.8,1835.89 L842.4,1832.26 L844.0,1828.61 L845.7,1824.94 L847.3,1821.24 L848.9,1817.52 L850.5,1813.78 L852.1,1810.01 L853.8,1806.23 L855.4,1802.44 L857.0,1798.62 L858.6,1794.79 L860.2,1790.94 L861.9,1787.08 L863.5,1783.21 L865.1,1779.33 L866.7,1775.44 L868.3,1771.54 L870.0,1767.63 L871.6,1763.72 L873.2,1759.81 L874.8,1755.89 L876.4,1751.97 L878.1,1748.05 L879.7,1744.13 L881.3,1740.21 L882.9,1736.30 L884.5,1732.39 L886.2,1728.48 L887.8,1724.58 L889.4,1720.69 L891.0,1716.81 L892.6,1712.93 L894.3,1709.06 L895.9,1705.20 L897.5,1701.35 L899.1,1697.51 L900.7,1693.67 L902.4,1689.85 L904.0,1686.04 L905.6,1682.24 L907.2,1678.45 L908.8,1674.66 L910.5,1670.89 L912.1,1667.13 L913.7,1663.38 L915.3,1659.63 L916.9,1655.90 L918.6,1652.18 L920.2,1648.46 L921.8,1644.75 L923.4,1641.06 L925.0,1637.37 L926.7,1633.69 L928.3,1630.02 L929.9,1626.35 L931.5,1622.70 L933.1,1619.05 L934.8,1615.41 L936.4,1611.77 L938.0,1608.15 L939.6,1604.53 L941.2,1600.91 L942.9,1597.31 L944.5,1593.70 L946.1,1590.11 L947.7,1586.51 L949.3,1582.92 L951.0,1579.34 L952.6,1575.75 L954.2,1572.17 L955.8,1568.59 L957.4,1565.01 L959.1,1561.43 L960.7,1557.86 L962.3,1554.28 L963.9,1550.70 L965.5,1547.12 L967.2,1543.55 L968.8,1539.98 L970.4,1536.41 L972.0,1532.84 L973.6,1529.28 L975.3,1525.72 L976.9,1522.18 L978.5,1518.64 L980.1,1515.12 L981.7,1511.61 L985.0,1504.65 L988.2,1497.78 L991.5,1491.01 L994.7,1484.37 L997.9,1477.87 L1001.2,1471.51 L1004.4,1465.31 L1007.7,1459.27 L1010.9,1453.38 L1014.1,1447.63 L1017.4,1442.02 L1020.6,1436.54 L1023.9,1431.17 L1027.1,1425.92 L1030.3,1420.75 L1033.6,1415.68 L1036.8,1410.69 L1040.1,1405.77 L1043.3,1400.92 L1046.5,1396.13 L1049.8,1391.39 L1053.0,1386.71 L1056.3,1382.07 L1059.5,1377.48 L1062.7,1372.92 L1066.0,1368.41 L1069.2,1363.93 L1072.5,1359.50 L1075.7,1355.11 L1078.9,1350.77 L1082.2,1346.48 L1085.4,1342.25 L1088.7,1338.08 L1091.9,1333.99 L1095.1,1329.97 L1098.4,1326.03 L1101.6,1322.16 L1104.9,1318.38 L1108.1,1314.68 L1111.3,1311.05 L1114.6,1307.50 L1117.8,1304.03 L1121.1,1300.63 L1124.3,1297.30 L1127.5,1294.06 L1130.8,1290.88 L1134.0,1287.79 L1137.3,1284.78 L1140.5,1281.86 L1143.8,1279.03 L1147.0,1276.29 L1150.2,1273.65 L1153.5,1271.11 L1156.7,1268.68 L1160.0,1266.34 L1163.2,1264.09 L1168.1,1260.90 L1172.9,1257.89 L1177.8,1255.05 L1182.6,1252.35 L1187.5,1249.76 L1192.4,1247.27 L1197.2,1244.86 L1202.1,1242.52 L1206.9,1240.24 L1211.8,1238.02 L1216.7,1235.87 L1221.5,1233.78 L1226.4,1231.76 L1231.2,1229.82 L1236.1,1227.96 L1241.0,1226.18 L1245.8,1224.48 L1250.7,1222.86 L1255.5,1221.32 L1260.4,1219.85 L1265.3,1218.45 L1270.1,1217.11 L1275.0,1215.84 L1279.8,1214.62 L1284.7,1213.46 L1289.6,1212.36 L1294.4,1211.32 L1299.3,1210.34 L1304.1,1209.42 L1310.6,1208.28 L1317.1,1207.25 L1323.6,1206.31 L1330.1,1205.46 L1336.5,1204.68 L1343.0,1203.96 L1349.5,1203.29 L1356.0,1202.66 L1362.5,1202.05 L1368.9,1201.45 L1375.4,1200.86 L1381.9,1200.26 L1388.4,1199.64 L1394.9,1198.99 L1401.3,1198.32 L1407.8,1197.61 L1414.3,1196.89 L1420.8,1196.16 L1427.3,1195.44 L1433.7,1194.75 L1440.2,1194.10 L1446.7,1193.50 L1453.2,1192.97 L1459.7,1192.51 L1466.1,1192.10 L1472.6,1191.75 L1479.1,1191.46 L1485.6,1191.22 L1492.1,1191.04 L1498.5,1190.92 L1505.0,1190.88 L1511.5,1190.92 L1518.0,1191.04 L1524.5,1191.24 L1530.9,1191.52 L1537.4,1191.85 L1543.9,1192.23 L1550.4,1192.64 L1556.9,1193.05 L1563.3,1193.46 L1569.8,1193.85 L1576.3,1194.21 L1582.8,1194.54 L1589.3,1194.83 L1595.7,1195.09 L1602.2,1195.33 L1608.7,1195.54 L1615.2,1195.74 L1621.7,1195.93 L1628.1,1196.09 L1634.6,1196.25 L1641.1,1196.39 L1647.6,1196.51 L1654.1,1196.63 L1660.5,1196.72 L1667.0,1196.81 L1673.5,1196.88 L1680.0,1196.95 L1686.5,1197.00 L1692.9,1197.05 L1699.4,1197.09 L1705.9,1197.11 L1712.4,1197.13 L1714.0,1197.14" fill="none" stroke="#be4b48" stroke-width="7.2" stroke-linejoin="round"/>
<path transform="scale(1,1.25)" d="M743.6,2011.60 L745.7,2006.08 L747.9,2000.65 L750.0,1995.31 L752.1,1990.07 L754.2,1984.93 L756.4,1979.89 L758.5,1974.96 L760.6,1970.15 L762.7,1965.44 L764.9,1960.84 L767.0,1956.36 L769.1,1951.98 L771.3,1947.70 L773.4,1943.53 L775.5,1939.44 L777.6,1935.45 L779.8,1931.54 L781.9,1927.71 L784.0,1923.96 L786.2,1920.26 L788.3,1916.63 L790.4,1913.06 L792.5,1909.53 L794.7,1906.05 L796.8,1902.61 L798.9,1899.20 L801.0,1895.83 L803.2,1892.49 L805.3,1889.16 L807.4,1885.86 L809.6,1882.58 L811.7,1879.31 L813.8,1876.05 L815.9,1872.80 L818.1,1869.56 L820.2,1866.32 L822.3,1863.07 L824.5,1859.83 L826.6,1856.58 L828.7,1853.32 L830.8,1850.05 L833.0,1846.78 L835.1,1843.49 L837.2,1840.19 L839.3,1836.88 L841.5,1833.56 L843.6,1830.22 L845.7,1826.87 L847.9,1823.50 L850.0,1820.13 L852.1,1816.74 L854.2,1813.34 L856.4,1809.92 L858.5,1806.50 L860.6,1803.07 L862.8,1799.63 L864.9,1796.18 L867.0,1792.73 L869.1,1789.26 L871.3,1785.80 L873.4,1782.32 L875.5,1778.85 L877.6,1775.37 L879.8,1771.89 L881.9,1768.41 L884.0,1764.93 L886.2,1761.45 L888.3,1757.97 L890.4,1754.49 L892.5,1751.02 L894.7,1747.55 L896.8,1744.08 L898.9,1740.62 L901.1,1737.17 L903.2,1733.72 L905.3,1730.28 L907.4,1726.85 L909.6,1723.43 L911.7,1720.02 L913.8,1716.62 L915.9,1713.22 L918.1,1709.85 L920.2,1706.48 L922.3,1703.12 L924.5,1699.78 L926.6,1696.45 L928.7,1693.14 L930.8,1689.83 L933.0,1686.54 L935.1,1683.27 L937.2,1680.00 L939.3,1676.75 L941.5,1673.52 L943.6,1670.29 L945.7,1667.08 L947.9,1663.88 L950.0,1660.68 L952.1,1657.50 L954.2,1654.33 L956.4,1651.16 L958.5,1648.01 L960.6,1644.86 L962.8,1641.71 L964.9,1638.57 L967.0,1635.43 L969.1,1632.30 L971.3,1629.17 L973.4,1626.04 L975.5,1622.91 L977.6,1619.78 L979.8,1616.64 L981.9,1613.51 L984.0,1610.37 L986.2,1607.22 L988.3,1604.07 L990.4,1600.92 L992.5,1597.75 L994.7,1594.58 L996.8,1591.40 L998.9,1588.21 L1001.1,1585.01 L1003.2,1581.79 L1005.3,1578.57 L1007.4,1575.34 L1009.6,1572.09 L1011.7,1568.83 L1013.8,1565.57 L1015.9,1562.29 L1018.1,1559.00 L1020.2,1555.70 L1022.3,1552.40 L1024.5,1549.08 L1026.6,1545.76 L1028.7,1542.44 L1030.8,1539.11 L1033.0,1535.79 L1035.1,1532.46 L1037.2,1529.13 L1039.4,1525.81 L1041.5,1522.50 L1043.6,1519.20 L1045.7,1515.91 L1047.9,1512.64 L1050.0,1509.39 L1052.1,1506.16 L1054.2,1502.95 L1056.4,1499.78 L1058.5,1496.64 L1060.6,1493.54 L1064.9,1487.44 L1069.1,1481.52 L1073.4,1475.76 L1077.7,1470.18 L1081.9,1464.76 L1086.2,1459.49 L1090.4,1454.32 L1094.7,1449.25 L1098.9,1444.23 L1103.2,1439.25 L1107.4,1434.27 L1111.7,1429.29 L1115.9,1424.29 L1120.2,1419.27 L1124.5,1414.22 L1128.7,1409.16 L1133.0,1404.08 L1137.2,1398.99 L1141.5,1393.91 L1145.7,1388.84 L1150.0,1383.79 L1154.2,1378.78 L1158.5,1373.81 L1162.8,1368.90 L1167.0,1364.04 L1171.3,1359.25 L1175.5,1354.53 L1179.8,1349.87 L1184.0,1345.26 L1188.3,1340.71 L1192.5,1336.22 L1196.8,1331.76 L1201.1,1327.35 L1205.3,1322.97 L1209.6,1318.64 L1213.8,1314.34 L1218.1,1310.09 L1222.3,1305.91 L1226.6,1301.80 L1230.8,1297.78 L1235.1,1293.88 L1239.4,1290.10 L1243.6,1286.46 L1247.9,1282.98 L1252.1,1279.65 L1256.4,1276.49 L1260.6,1273.47 L1264.9,1270.60 L1269.1,1267.87 L1273.4,1265.25 L1277.7,1262.74 L1281.9,1260.32 L1286.2,1257.97 L1290.4,1255.70 L1294.7,1253.48 L1298.9,1251.30 L1303.2,1249.17 L1307.4,1247.08 L1311.7,1245.02 L1316.0,1243.01 L1320.2,1241.02 L1324.5,1239.08 L1328.7,1237.18 L1333.0,1235.32 L1337.2,1233.50 L1341.5,1231.73 L1345.7,1230.01 L1350.0,1228.33 L1354.3,1226.70 L1358.5,1225.11 L1362.8,1223.57 L1367.0,1222.06 L1371.3,1220.60 L1375.5,1219.18 L1381.9,1217.11 L1388.3,1215.14 L1394.7,1213.24 L1401.1,1211.43 L1407.4,1209.69 L1413.8,1208.03 L1420.2,1206.44 L1426.6,1204.91 L1433.0,1203.45 L1439.4,1202.03 L1445.7,1200.67 L1452.1,1199.37 L1458.5,1198.13 L1464.9,1196.97 L1471.3,1195.92 L1477.7,1195.00 L1484.0,1194.22 L1490.4,1193.58 L1496.8,1193.07 L1503.2,1192.67 L1509.6,1192.36 L1516.0,1192.12 L1522.3,1191.93 L1528.7,1191.78 L1535.1,1191.66 L1541.5,1191.57 L1547.9,1191.50 L1554.3,1191.46 L1560.6,1191.43 L1567.0,1191.43 L1573.4,1191.43 L1579.8,1191.45 L1586.2,1191.47 L1592.6,1191.50 L1598.9,1191.54 L1605.3,1191.57 L1611.7,1191.61 L1618.1,1191.65 L1624.5,1191.70 L1630.9,1191.74 L1637.2,1191.79 L1643.6,1191.84 L1650.0,1191.90 L1656.4,1191.96 L1662.8,1192.02 L1669.2,1192.09 L1675.5,1192.17 L1681.9,1192.26 L1688.3,1192.36 L1694.7,1192.46 L1701.1,1192.57 L1707.5,1192.69 L1713.8,1192.81 L1720.2,1192.94 L1726.6,1193.07 L1733.0,1193.20 L1739.4,1193.32 L1745.8,1193.45 L1752.1,1193.58 L1758.5,1193.70 L1764.9,1193.82 L1771.3,1193.93 L1777.7,1194.05 L1784.1,1194.16 L1790.4,1194.27 L1796.8,1194.39 L1803.2,1194.50 L1809.6,1194.61 L1816.0,1194.72 L1822.4,1194.83 L1828.7,1194.95 L1835.1,1195.06 L1841.5,1195.17 L1847.9,1195.28 L1854.3,1195.40 L1860.6,1195.52 L1867.0,1195.63 L1873.4,1195.75 L1879.8,1195.87 L1886.2,1195.99 L1892.6,1196.11 L1898.9,1196.24 L1905.3,1196.36 L1911.7,1196.49 L1918.1,1196.62 L1924.5,1196.74 L1930.9,1196.87 L1937.2,1197.00 L1943.6,1197.14 L1950.0,1197.27 L1956.4,1197.40 L1962.8,1197.54 L1969.2,1197.67 L1975.5,1197.81 L1981.9,1197.95 L1988.3,1198.09 L1994.7,1198.23 L2001.1,1198.37 L2007.5,1198.51 L2013.8,1198.65 L2018.1,1198.75" fill="none" stroke="#98b954" stroke-width="7.2" stroke-linejoin="round"/>
<text x="680" y="2533.0" font-family="'Liberation Sans', sans-serif" font-size="60" text-anchor="end" fill="#262626" stroke="#262626" stroke-width="0.9">0</text>
<text x="680" y="2331.6" font-family="'Liberation Sans', sans-serif" font-size="60" text-anchor="end" fill="#262626" stroke="#262626" stroke-width="0.9">0.2</text>
<text x="680" y="2130.2" font-family="'Liberation Sans', sans-serif" font-size="60" text-anchor="end" fill="#262626" stroke="#262626" stroke-width="0.9">0.4</text>
<text x="680" y="1928.8" font-family="'Liberation Sans', sans-serif" font-size="60" text-anchor="end" fill="#262626" stroke="#262626" stroke-width="0.9">0.6</text>
<text x="680" y="1727.4" font-family="'Liberation Sans', sans-serif" font-size="60" text-anchor="end" fill="#262626" stroke="#262626" stroke-width="0.9">0.8</text>
<text x="680" y="1526.0" font-family="'Liberation Sans', sans-serif" font-size="60" text-anchor="end" fill="#262626" stroke="#262626" stroke-width="0.9">1</text>
<text x="744.6" y="2624" font-family="'Liberation Sans', sans-serif" font-size="60" text-anchor="middle" fill="#262626" stroke="#262626" stroke-width="0.9">0</text>
<text x="997.5" y="2624" font-family="'Liberation Sans', sans-serif" font-size="60" text-anchor="middle" fill="#262626" stroke="#262626" stroke-width="0.9">1</text>
<text x="1250.4" y="2624" font-family="'Liberation Sans', sans-serif" font-size="60" text-anchor="middle" fill="#262626" stroke="#262626" stroke-width="0.9">2</text>
<text x="1505.3" y="2624" font-family="'Liberation Sans', sans-serif" font-size="60" text-anchor="middle" fill="#262626" stroke="#262626" stroke-width="0.9">3</text>
<text x="1760.2" y="2624" font-family="'Liberation Sans', sans-serif" font-size="60" text-anchor="middle" fill="#262626" stroke="#262626" stroke-width="0.9">4</text>
<text x="2014.1" y="2624" font-family="'Liberation Sans', sans-serif" font-size="60" text-anchor="middle" fill="#262626" stroke="#262626" stroke-width="0.9">5</text>
<rect x="1299" y="1956" width="101" height="8" fill="#4a7ebb"/>
<text x="1407" y="1972" font-family="'Liberation Sans', sans-serif" font-size="58" fill="#262626" stroke="#262626" stroke-width="0.8" textLength="380" lengthAdjust="spacingAndGlyphs">Aspect ratio 1</text>
<rect x="1299" y="2082.5" width="101" height="8" fill="#be4b48"/>
<text x="1407" y="2098.5" font-family="'Liberation Sans', sans-serif" font-size="58" fill="#262626" stroke="#262626" stroke-width="0.8" textLength="380" lengthAdjust="spacingAndGlyphs">Aspect ratio 2</text>
<rect x="1299" y="2209.8" width="101" height="8" fill="#98b954"/>
<text x="1407" y="2225.8" font-family="'Liberation Sans', sans-serif" font-size="58" fill="#262626" stroke="#262626" stroke-width="0.8" textLength="380" lengthAdjust="spacingAndGlyphs">Aspect ratio 3</text>
<text x="1026" y="2731.5" font-family="'DejaVu Sans Light', 'DejaVu Sans', 'Liberation Sans', sans-serif" font-weight="200" font-size="68" fill="#333" textLength="752" lengthAdjust="spacingAndGlyphs">Normalized pressure</text>
<text transform="translate(503.5,2474) rotate(-90)" font-family="'DejaVu Sans Light', 'DejaVu Sans', 'Liberation Sans', sans-serif" font-weight="200" font-size="82" fill="#333" textLength="978" lengthAdjust="spacingAndGlyphs">Normalized Pattern height</text>
</svg></body></html>
